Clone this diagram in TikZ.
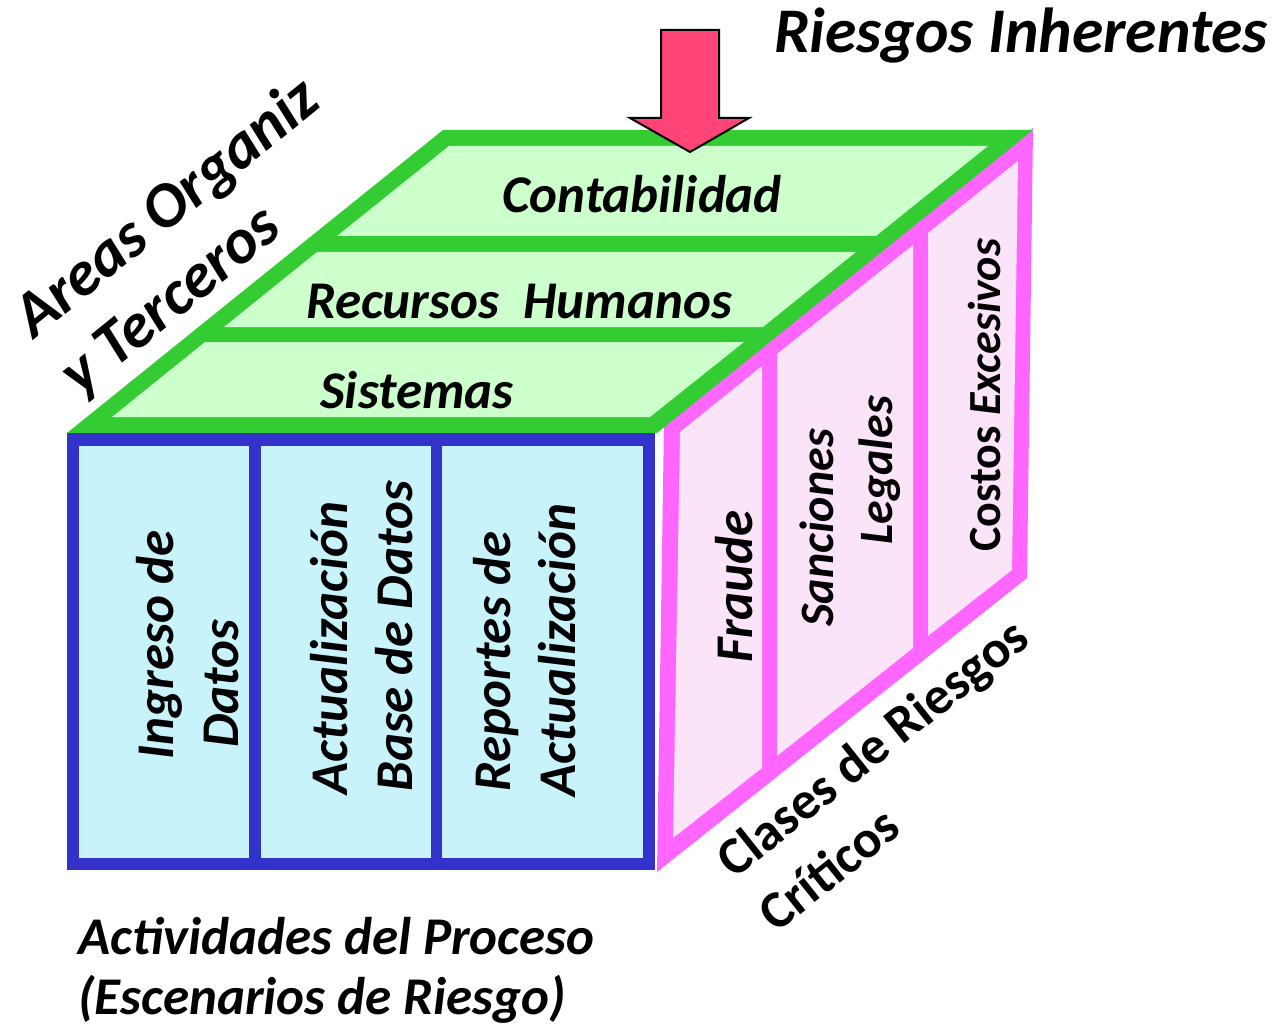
\documentclass[tikz,border=0pt]{standalone}
\usepackage{fontspec}
\setmainfont{Carlito}
\definecolor{grnB}{HTML}{33CC33}
\definecolor{grnF}{HTML}{CCFFCC}
\definecolor{bluB}{HTML}{3333CC}
\definecolor{bluF}{HTML}{C9F3FB}
\definecolor{pnkB}{HTML}{FF66FF}
\definecolor{pnkF}{HTML}{FBE4F8}
\definecolor{arrF}{HTML}{FF4477}
\tikzset{
  txt/.style={inner sep=0pt, font=\fontsize{26.5}{32}\selectfont\bfseries\itshape},
  smtxt/.style={inner sep=0pt, font=\fontsize{24}{29}\selectfont\bfseries\itshape},
  bigtxt/.style={inner sep=0pt, font=\fontsize{31.8}{38}\selectfont\bfseries\itshape},
  uptxt/.style={inner sep=0pt, font=\fontsize{26.5}{32}\selectfont\bfseries},
}
\begin{document}
\begin{tikzpicture}[x=0.5pt,y=-0.5pt]
\useasboundingbox (0,0) rectangle (1279,1027);
% right face (pink)
\fill[pnkB] (664,424) -- (1033,128) -- (1027,578) -- (657,872) -- cycle;
\fill[pnkF] (680,432) -- (762,366) -- (762,768) -- (673,838) -- cycle;
\fill[pnkF] (777,354) -- (913,245) -- (913,648) -- (777,756) -- cycle;
\fill[pnkF] (928,233) -- (1018,161) -- (1012,570) -- (928,636) -- cycle;
% top face (green)
\fill[grnB] (67,433) -- (657,433) -- (1033,130) -- (443,130) -- cycle;
\fill[grnF] (449,146) -- (988,146) -- (876,236) -- (337,236) -- cycle;
\fill[grnF] (317,252) -- (856,252) -- (763,327) -- (224,327) -- cycle;
\fill[grnF] (205,342) -- (744,342) -- (650,417) -- (112,417) -- cycle;
% front face (blue)
\fill[bluB] (67,433) rectangle (655,870);
\fill[bluF] (79,446) rectangle (249,858);
\fill[bluF] (261,446) rectangle (431,858);
\fill[bluF] (442,446) rectangle (643,858);
% arrow
\draw[fill=arrF, draw=black, line width=1pt, line join=miter]
  (661,30) -- (719,30) -- (719,118) -- (749,118) -- (690,152) -- (630,118) -- (661,118) -- cycle;
% titles
\node[bigtxt, anchor=base] (ri) at (1021,53) {Riesgos Inherentes};
\node[bigtxt, anchor=base west, rotate=39] (ao1) at (34,340) {Areas Organiz};
\node[bigtxt, anchor=base west, rotate=39] (ao2) at (80,398) {y Terceros};
% top face labels
\node[txt, anchor=base] (t1) at (642,213) {Contabilidad};
\node[txt, anchor=base] (t2) at (519,318) {Recursos\ \ Humanos};
\node[txt, anchor=base] (t3) at (417,408) {Sistemas};
% front face labels
\node[txt, anchor=base west, rotate=90] (f1a) at (173,760) {Ingreso de};
\node[txt, anchor=base west, rotate=90] (f1b) at (238,748) {Datos};
\node[txt, anchor=base west, rotate=90] (f2a) at (347,795) {Actualización};
\node[txt, anchor=base west, rotate=90] (f2b) at (412,792) {Base de Datos};
\node[txt, anchor=base west, rotate=90] (f3a) at (510,792) {Reportes de};
\node[txt, anchor=base west, rotate=90] (f3b) at (575,797) {Actualización};
% right face labels
\node[txt, anchor=base west, rotate=90] (r1) at (752,663) {Fraude};
\node[smtxt, anchor=base west, rotate=90] (r2a) at (833,627) {Sanciones};
\node[smtxt, anchor=base west, rotate=90] (r2b) at (892,545) {Legales};
\node[inner sep=0pt, font=\fontsize{23}{28}\selectfont\bfseries, anchor=base west, rotate=90] (r3) at (1000,552) {Costos \itshape Excesivos};
% side caption
\node[uptxt, anchor=base west, rotate=38.5] (c1) at (734,880) {Clases de Riesgos};
\node[uptxt, anchor=base west, rotate=38.5] (c2) at (776,934) {Críticos};
% bottom caption
\node[txt, anchor=base west] (b1) at (78,954) {Actividades del Proceso};
\node[txt, anchor=base west] (b2) at (78,1014) {(Escenarios de Riesgo)};
\end{tikzpicture}
\end{document}
